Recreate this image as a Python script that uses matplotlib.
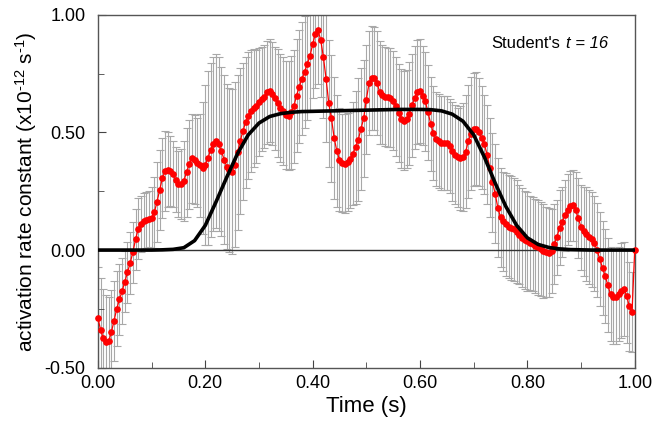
import matplotlib
matplotlib.use("Agg")
import matplotlib.pyplot as plt
import numpy as np
from matplotlib.ticker import MultipleLocator, FormatStrFormatter

plt.rcParams["font.family"] = ["Liberation Sans", "DejaVu Sans"]
plt.rcParams["mathtext.fontset"] = "custom"
plt.rcParams["mathtext.rm"] = "Liberation Sans"
plt.rcParams["mathtext.it"] = "Liberation Sans:italic"

# measured rate constant, one value every 5 ms (0.000 ... 1.000 s)
rate = [
    -0.29, -0.34, -0.375, -0.392, -0.388, -0.35, -0.30, -0.25, -0.21, -0.175,
    -0.135, -0.095, -0.055, -0.01, 0.045, 0.09, 0.11, 0.122, 0.129, 0.131,
    0.137, 0.16, 0.205, 0.255, 0.306, 0.335, 0.342, 0.336, 0.324, 0.30,
    0.28, 0.28, 0.295, 0.33, 0.365, 0.39, 0.385, 0.372, 0.36, 0.35,
    0.362, 0.393, 0.425, 0.45, 0.463, 0.449, 0.42, 0.385, 0.355, 0.34,
    0.334, 0.363, 0.415, 0.463, 0.505, 0.543, 0.572, 0.59, 0.603, 0.612,
    0.628, 0.643, 0.653, 0.671, 0.678, 0.665, 0.645, 0.625, 0.603, 0.59,
    0.575, 0.572, 0.585, 0.612, 0.657, 0.695, 0.728, 0.757, 0.793, 0.825,
    0.875, 0.92, 0.936, 0.893, 0.821, 0.728, 0.625, 0.56, 0.478, 0.421,
    0.385, 0.37, 0.368, 0.374, 0.387, 0.41, 0.438, 0.47, 0.515, 0.56,
    0.64, 0.71, 0.732, 0.73, 0.71, 0.671, 0.66, 0.652, 0.65, 0.648,
    0.635, 0.612, 0.583, 0.558, 0.55, 0.557, 0.58, 0.615, 0.648, 0.672,
    0.676, 0.657, 0.632, 0.585, 0.537, 0.497, 0.471, 0.462, 0.457, 0.457,
    0.455, 0.442, 0.42, 0.405, 0.395, 0.392, 0.395, 0.418, 0.463, 0.495,
    0.513, 0.516, 0.502, 0.478, 0.45, 0.405, 0.35, 0.288, 0.24, 0.18,
    0.14, 0.123, 0.109, 0.10, 0.094, 0.088, 0.078, 0.066, 0.053, 0.043,
    0.037, 0.031, 0.027, 0.019, 0.011, 0.004, -0.003, -0.009, -0.011, -0.004,
    0.024, 0.055, 0.095, 0.12, 0.148, 0.172, 0.188, 0.19, 0.17, 0.135,
    0.097, 0.08, 0.067, 0.056, 0.045, 0.028, -0.001, -0.04, -0.075, -0.11,
    -0.15, -0.188, -0.2, -0.198, -0.185, -0.172, -0.166, -0.195, -0.24, -0.265,
    0.0,
]

# error bar half widths, same sampling
rate_err = [
    0.22, 0.22, 0.21, 0.2, 0.19, 0.18, 0.17, 0.16, 0.15, 0.14,
    0.13, 0.13, 0.13, 0.13, 0.13, 0.13, 0.12, 0.12, 0.12, 0.12,
    0.13, 0.15, 0.17, 0.17, 0.17, 0.17, 0.16, 0.15, 0.14, 0.14,
    0.14, 0.15, 0.17, 0.19, 0.19, 0.19, 0.19, 0.19, 0.22, 0.28,
    0.34, 0.37, 0.37, 0.37, 0.37, 0.37, 0.36, 0.36, 0.35, 0.35,
    0.35, 0.35, 0.33, 0.31, 0.29, 0.28, 0.27, 0.26, 0.25, 0.24,
    0.23, 0.22, 0.22, 0.22, 0.22, 0.22, 0.22, 0.23, 0.23, 0.23,
    0.23, 0.23, 0.24, 0.24, 0.24, 0.24, 0.24, 0.24, 0.24, 0.24,
    0.23, 0.23, 0.23, 0.24, 0.26, 0.27, 0.27, 0.27, 0.26, 0.24,
    0.22, 0.21, 0.21, 0.21, 0.21, 0.22, 0.24, 0.26, 0.26, 0.25,
    0.23, 0.22, 0.22, 0.22, 0.22, 0.22, 0.21, 0.21, 0.21, 0.21,
    0.21, 0.21, 0.21, 0.21, 0.21, 0.21, 0.22, 0.22, 0.22, 0.22,
    0.22, 0.21, 0.21, 0.2, 0.2, 0.2, 0.2, 0.2, 0.2, 0.2,
    0.2, 0.2, 0.21, 0.21, 0.21, 0.22, 0.23, 0.24, 0.24, 0.24,
    0.24, 0.24, 0.23, 0.22, 0.21, 0.21, 0.21, 0.21, 0.21, 0.21,
    0.21, 0.21, 0.22, 0.22, 0.22, 0.22, 0.22, 0.21, 0.21, 0.21,
    0.21, 0.2, 0.2, 0.2, 0.2, 0.2, 0.2, 0.19, 0.19, 0.18,
    0.17, 0.16, 0.16, 0.15, 0.15, 0.15, 0.15, 0.15, 0.16, 0.17,
    0.18, 0.19, 0.2, 0.2, 0.2, 0.2, 0.2, 0.2, 0.2, 0.2,
    0.2, 0.2, 0.2, 0.2, 0.2, 0.2, 0.2, 0.2, 0.19, 0.17,
    0.0,
]
time = np.linspace(0.0, 1.0, len(rate))

# fitted step profile, one value every 20 ms
fit_time = np.linspace(0.0, 1.0, 51)
fit_rate = [
    0.0, 0.0, 0.0, 0.0, 0.0, 0.0, 0.001, 0.003, 0.01, 0.04,
    0.105, 0.205, 0.31, 0.41, 0.49, 0.54, 0.568, 0.58, 0.586, 0.589,
    0.59, 0.591, 0.592, 0.593, 0.594, 0.595, 0.596, 0.597, 0.598, 0.598,
    0.598, 0.597, 0.592, 0.578, 0.548, 0.49, 0.395, 0.285, 0.185, 0.105,
    0.052, 0.024, 0.011, 0.005, 0.002, 0.001, 0.0, 0.0, 0.0, 0.0,
    0.0,
]

fig = plt.figure(figsize=(6.53, 4.26), dpi=100)
ax = fig.add_axes([0.150, 0.137, 0.822, 0.828])

ax.errorbar(time, rate, yerr=rate_err, fmt="none", ecolor="#a8a8a8",
            elinewidth=0.8, capsize=3, capthick=0.8, zorder=1)
ax.axhline(0.0, color="#333333", lw=1.0, zorder=2)
ax.plot(time, rate, color="#ff0000", lw=0.9, marker="o", ms=3.8,
        mec="#ff0000", mfc="#ff0000", zorder=3, clip_on=False)
ax.plot(fit_time, fit_rate, color="black", lw=2.6, zorder=4,
        solid_capstyle="round", solid_joinstyle="round")

ax.set_xlim(0.0, 1.0)
ax.set_ylim(-0.5, 1.0)
ax.xaxis.set_major_locator(MultipleLocator(0.2))
ax.xaxis.set_minor_locator(MultipleLocator(0.1))
ax.yaxis.set_major_locator(MultipleLocator(0.5))
ax.yaxis.set_minor_locator(MultipleLocator(0.25))
ax.xaxis.set_major_formatter(FormatStrFormatter("%.2f"))
ax.yaxis.set_major_formatter(FormatStrFormatter("%.2f"))
ax.tick_params(which="both", direction="in", top=False, right=False,
               color="#444444", labelsize=13)
ax.tick_params(which="major", length=6)
ax.tick_params(which="minor", length=4)
ax.tick_params(axis="y", pad=9)
ax.tick_params(axis="x", pad=5)
for side in ax.spines.values():
    side.set_color("#555555")
    side.set_linewidth(1.0)

ax.set_xlabel("Time (s)", fontsize=16, labelpad=3)
ax.set_ylabel(r"activation rate constant (x10$^{\text{-12}}$ s$^{\text{-1}}$)",
              fontsize=15, labelpad=4)

# "Student's" upright, "t = 16" italic, as in the original figure
ax.text(0.862, 0.918, "Student's", transform=ax.transAxes,
        ha="right", va="center", fontsize=12)
ax.annotate("t = 16", xy=(0.862, 0.918), xycoords="axes fraction",
            xytext=(3.5, 0), textcoords="offset points",
            ha="left", va="center", fontsize=12, fontstyle="italic")

fig.savefig("out.png", dpi=100)
